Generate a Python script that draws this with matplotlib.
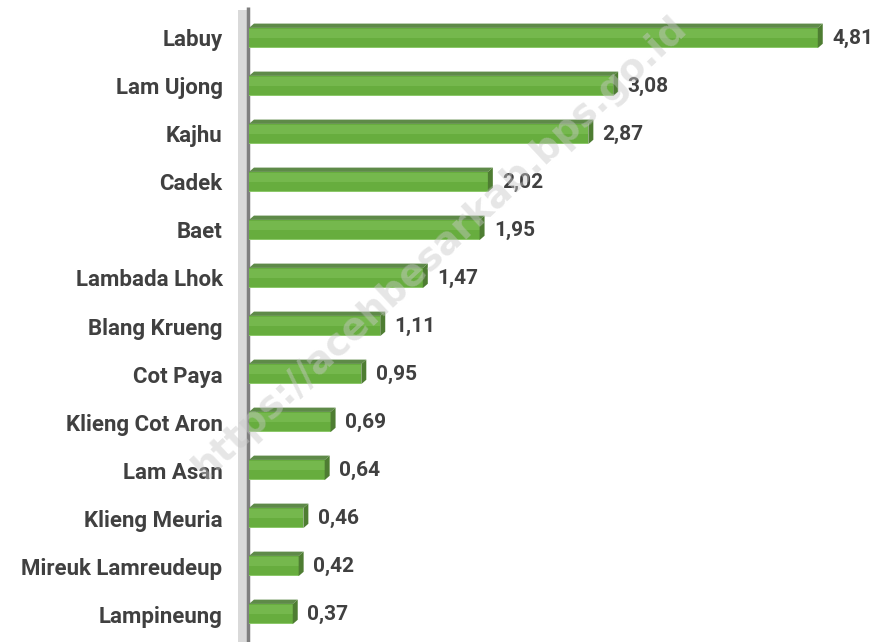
import matplotlib
matplotlib.use("Agg")
import matplotlib.pyplot as plt
from matplotlib.patches import Polygon, Rectangle

# ── data (top to bottom as shown) ──
villages = ["Labuy", "Lam Ujong", "Kajhu", "Cadek", "Baet", "Lambada Lhok",
            "Blang Krueng", "Cot Paya", "Klieng Cot Aron", "Lam Asan",
            "Klieng Meuria", "Mireuk Lamreudeup", "Lampineung"]
values = [4.81, 3.08, 2.87, 2.02, 1.95, 1.47, 1.11, 0.95, 0.69, 0.64, 0.46, 0.42, 0.37]
value_labels = ["4,81", "3,08", "2,87", "2,02", "1,95", "1,47", "1,11",
                "0,95", "0,69", "0,64", "0,46", "0,42", "0,37"]

FONT = ["Roboto", "DejaVu Sans"]
TXT = "#404040"
FRONT, TOP, SIDE = "#67ad3e", "#5e8a48", "#4e7d32"

fig = plt.figure(figsize=(8.8, 6.42), dpi=100)
ax = fig.add_axes([249/880, 0, 622/880, 1 - 10/642])

n = len(villages)
ypos = [n - 1 - i for i in range(n)]
H = 0.42                 # bar thickness
DX, DY = 0.042, 0.09     # 3d depth offset

for y, v in zip(ypos, values):
    ax.barh(y, v, height=H, color=FRONT, edgecolor="none", zorder=3)
    ax.barh(y + H * 0.22, v, height=H * 0.45, color="#7fc058", alpha=0.6,
            edgecolor="none", zorder=3)
    ax.barh(y - H/2 + 0.012, v, height=0.025, color="#8cc86a",
            edgecolor="none", zorder=3)
    top = [(0, y + H/2), (v, y + H/2), (v + DX, y + H/2 + DY), (DX, y + H/2 + DY)]
    ax.add_patch(Polygon(top, closed=True, facecolor=TOP, edgecolor="none", zorder=3))
    side = [(v, y - H/2), (v + DX, y - H/2 + DY), (v + DX, y + H/2 + DY), (v, y + H/2)]
    ax.add_patch(Polygon(side, closed=True, facecolor=SIDE, edgecolor="none", zorder=3))

for y, v, lab in zip(ypos, values, value_labels):
    ax.text(v + 0.12, y, lab, ha="left", va="center", fontsize=15,
            fontweight="bold", color=TXT, family=FONT, zorder=5)

# axis wall
ax.add_patch(Rectangle((-0.09, -1), 0.07, 13.58, facecolor="#d9d9d9",
                       edgecolor="none", clip_on=False, zorder=2))
ax.plot([-0.01, -0.01], [-1, 12.65], color="#7f7f7f", lw=2.5,
        clip_on=False, zorder=2, solid_capstyle="butt")

ax.set_xlim(0, 5.26)
ax.set_ylim(-0.583, 12.583)
ax.set_yticks(ypos)
ax.set_yticklabels(villages, fontsize=16, fontweight="bold", color=TXT, family=FONT)
ax.tick_params(axis="y", length=0, pad=19)
ax.set_xticks([])
for s in ax.spines.values():
    s.set_visible(False)

fig.text(0.5, 0.615, "https://acehbesarkab.bps.go.id", rotation=43,
         ha="center", va="center", fontsize=27, fontweight="bold",
         color="#c8c8c8", alpha=0.45, zorder=10)

fig.savefig("out.png", dpi=100)
